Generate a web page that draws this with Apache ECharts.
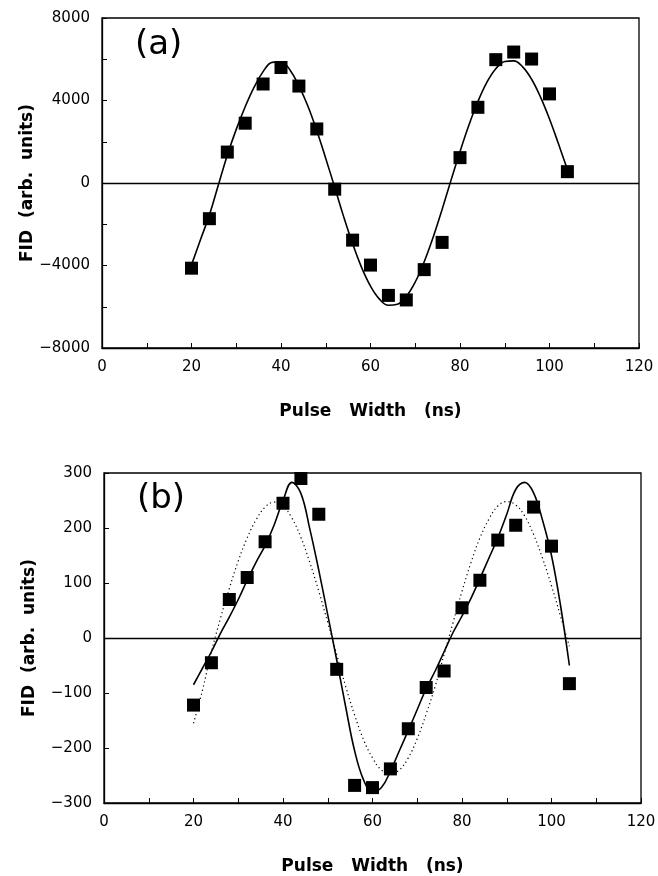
<!DOCTYPE html>
<html>
<head>
<meta charset="utf-8">
<script src="https://cdn.jsdelivr.net/npm/echarts@6/dist/echarts.min.js"></script>
<style>
  html, body { margin: 0; padding: 0; background: #fff; }
  #chart { width: 658px; height: 876px; }
</style>
</head>
<body>
<div id="chart"></div>
<script>
// ---------- data ----------
const pulseWidth = [20, 24, 28, 32, 36, 40, 44, 48, 52, 56, 60, 64, 68, 72, 76, 80, 84, 88, 92, 96, 100, 104];

// panel (a) measured FID
const fidA = [-4130, -1730, 1500, 2900, 4800, 5600, 4700, 2620, -300, -2770, -3980, -5450, -5670, -4200, -2880, 1230, 3670, 5980, 6350, 6010, 4320, 550];

// panel (b) measured FID
const fidB = [-122, -45, 70, 110, 175, 245, 290, 225, -57, -268, -272, -238, -165, -90, -60, 55, 105, 178, 205, 238, 167, -83];

// fitted curves, sampled every 2 ns
const fitX = [20, 22, 24, 26, 28, 30, 32, 34, 36, 38, 40, 42, 44, 46, 48, 50, 52, 54, 56, 58, 60, 62, 64, 66, 68, 70, 72, 74, 76, 78, 80, 82, 84, 86, 88, 90, 92, 94, 96, 98, 100, 102, 104];

const fitA = [-3970, -2750, -1550, -100, 1350, 2600, 3700, 4650, 5400, 5850, 5880, 5480, 4710, 3730, 2530, 1190, -210, -1630, -2940, -4090, -5000, -5630, -5930, -5880, -5500, -4800, -3820, -2630, -1280, 140, 1520, 2810, 3950, 4880, 5540, 5890, 5920, 5630, 5030, 4160, 3100, 1900, 650];

const fitBSolid = [-85, -55, -25, 8, 38, 70, 105, 138, 168, 205, 250, 283, 263, 198, 123, 42, -40, -125, -205, -258, -280, -272, -242, -205, -168, -130, -92, -60, -25, 10, 40, 72, 108, 145, 182, 225, 270, 283, 264, 214, 150, 60, -50];

const fitBDotted = [-155, -95, -25, 35, 90, 140, 182, 215, 238, 247, 240, 218, 183, 137, 85, 28, -30, -88, -140, -185, -218, -240, -247, -240, -218, -183, -138, -88, -30, 28, 85, 137, 182, 216, 240, 248, 242, 222, 188, 145, 95, 40, -15];

// axis ticks
const xTicks = [0, 20, 40, 60, 80, 100, 120];
const yTicksA = [-8000, -4000, 0, 4000, 8000];
const yTicksB = [-300, -200, -100, 0, 100, 200, 300];

const panelLabels = ['(a)', '(b)'];
const xName = 'Pulse   Width   (ns)';
const yName = 'FID  (arb.  units)';

// ---------- chart ----------
const FONT = 'DejaVu Sans';
const pairs = (xs, ys) => xs.map((x, i) => [x, ys[i]]);
const fmtNum = v => (v < 0 ? '\u2212' + Math.abs(v) : String(v));

function xAxisFor(gridIndex) {
  return {
    type: 'value', gridIndex,
    min: xTicks[0], max: xTicks[xTicks.length - 1],
    interval: xTicks[1] - xTicks[0],
    name: xName, nameLocation: 'middle', nameGap: 55, nameMoveOverlap: false,
    nameTextStyle: { fontFamily: FONT, fontWeight: 'bold', fontSize: 17, color: '#000' },
    axisLine: { show: true, onZero: false, lineStyle: { color: '#000', width: 1.3 } },
    axisTick: { show: true, inside: true, length: 5, lineStyle: { color: '#000', width: 1 } },
    minorTick: { show: true, splitNumber: 2, length: 5, lineStyle: { color: '#000', width: 1 } },
    axisLabel: { show: true, margin: 12, fontFamily: FONT, fontSize: 15, color: '#000', formatter: fmtNum },
    splitLine: { show: false }, minorSplitLine: { show: false }
  };
}

function yAxisFor(gridIndex, ticks, minor) {
  return {
    type: 'value', gridIndex,
    min: ticks[0], max: ticks[ticks.length - 1],
    interval: ticks[1] - ticks[0],
    name: yName, nameLocation: 'middle', nameGap: 66, nameRotate: 90, nameMoveOverlap: false,
    nameTextStyle: { fontFamily: FONT, fontWeight: 'bold', fontSize: 17, color: '#000' },
    axisLine: { show: true, onZero: false, lineStyle: { color: '#000', width: 1.3 } },
    axisTick: { show: true, inside: true, length: 5, lineStyle: { color: '#000', width: 1 } },
    minorTick: { show: minor, splitNumber: 2, length: 5, lineStyle: { color: '#000', width: 1 } },
    axisLabel: { show: true, margin: 12, fontFamily: FONT, fontSize: 15, color: '#000', formatter: fmtNum },
    splitLine: { show: false }, minorSplitLine: { show: false }
  };
}

const zeroLine = {
  silent: true, symbol: ['none', 'none'],
  label: { show: false },
  lineStyle: { color: '#000', width: 1.3, type: 'solid', opacity: 1 },
  emphasis: { disabled: true },
  data: [{ yAxis: 0 }]
};

const chart = echarts.init(document.getElementById('chart'), null, { renderer: 'canvas' });
chart.setOption({
  animation: false,
  backgroundColor: '#fff',
  textStyle: { fontFamily: FONT },
  grid: [
    { left: 102, top: 18, width: 537, height: 330, show: true, borderColor: '#000', borderWidth: 1.3, backgroundColor: 'transparent', containLabel: false, outerBoundsMode: 'none' },
    { left: 104, top: 473, width: 537, height: 330, show: true, borderColor: '#000', borderWidth: 1.3, backgroundColor: 'transparent', containLabel: false, outerBoundsMode: 'none' }
  ],
  xAxis: [xAxisFor(0), xAxisFor(1)],
  yAxis: [yAxisFor(0, yTicksA, true), yAxisFor(1, yTicksB, false)],
  graphic: [
    { type: 'text', left: 135, top: 28, style: { text: panelLabels[0], fontFamily: FONT, fontSize: 34, fill: '#000' } },
    { type: 'text', left: 137, top: 482, style: { text: panelLabels[1], fontFamily: FONT, fontSize: 34, fill: '#000' } }
  ],
  series: [
    {
      type: 'line', xAxisIndex: 0, yAxisIndex: 0, data: pairs(fitX, fitA),
      smooth: 0.4, showSymbol: false, symbol: 'none',
      lineStyle: { color: '#000', width: 1.6 }, z: 2, markLine: zeroLine
    },
    {
      type: 'scatter', xAxisIndex: 0, yAxisIndex: 0, data: pairs(pulseWidth, fidA),
      symbol: 'rect', symbolSize: 13, itemStyle: { color: '#000', opacity: 1 }, z: 3
    },
    {
      type: 'line', xAxisIndex: 1, yAxisIndex: 1, data: pairs(fitX, fitBDotted),
      smooth: 0.4, showSymbol: false, symbol: 'none',
      lineStyle: { color: '#000', width: 1.2, type: [1.2, 3] }, z: 2, markLine: zeroLine
    },
    {
      type: 'line', xAxisIndex: 1, yAxisIndex: 1, data: pairs(fitX, fitBSolid),
      smooth: 0.4, showSymbol: false, symbol: 'none',
      lineStyle: { color: '#000', width: 1.6 }, z: 2
    },
    {
      type: 'scatter', xAxisIndex: 1, yAxisIndex: 1, data: pairs(pulseWidth, fidB),
      symbol: 'rect', symbolSize: 13, itemStyle: { color: '#000', opacity: 1 }, z: 3
    }
  ]
});
</script>
</body>
</html>
